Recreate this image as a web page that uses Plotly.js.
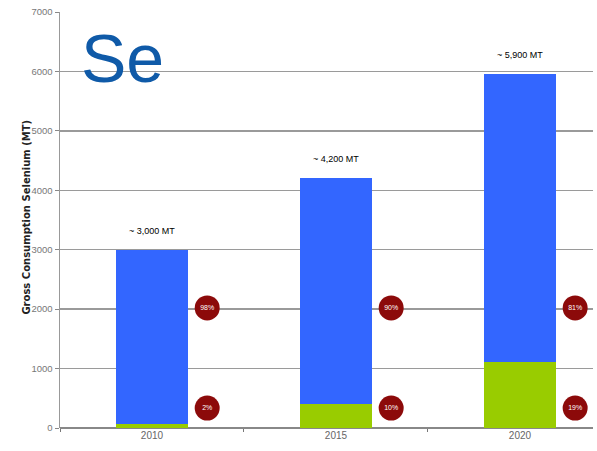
<!DOCTYPE html>
<html>
<head>
<meta charset="utf-8">
<script src="https://cdn.plot.ly/plotly-3.0.1.min.js"></script>
<style>html,body{margin:0;padding:0;background:#fff;}#chart{width:597px;height:451px;}</style>
</head>
<body>
<div id="chart"></div>
<script>
const categories = ['2010', '2015', '2020'];
const totalValues = [3000, 4200, 5950];
const greenValues = [60, 410, 1110];
const blueValues = [2940, 3790, 4840];
const totalLabels = ['~ 3,000 MT', '~ 4,200 MT', '~ 5,900 MT'];
const bluePctLabels = ['98%', '90%', '81%'];
const greenPctLabels = ['2%', '10%', '19%'];

const idx = categories.map((c, i) => i);
const circleOffset = 0.3;
const upperCircleY = 2020;
const lowerCircleY = 335;

const traces = [
  {type: 'bar', x: idx, y: greenValues, marker: {color: '#99cc00'}, width: 0.39, hoverinfo: 'skip'},
  {type: 'bar', x: idx, y: blueValues, marker: {color: '#3366ff'}, width: 0.39, hoverinfo: 'skip'},
  {type: 'scatter', mode: 'markers+text', x: idx.map(i => i + circleOffset), y: idx.map(() => upperCircleY),
   text: bluePctLabels, textposition: 'middle center', textfont: {color: '#ffffff', size: 7, family: 'Liberation Sans, Arial'},
   marker: {size: 25, color: '#8c0a0a', line: {width: 0}}, hoverinfo: 'skip'},
  {type: 'scatter', mode: 'markers+text', x: idx.map(i => i + circleOffset), y: idx.map(() => lowerCircleY),
   text: greenPctLabels, textposition: 'middle center', textfont: {color: '#ffffff', size: 7, family: 'Liberation Sans, Arial'},
   marker: {size: 25, color: '#8c0a0a', line: {width: 0}}, hoverinfo: 'skip'}
];

const annotations = idx.map(i => ({
  x: i, y: totalValues[i], xref: 'x', yref: 'y', text: totalLabels[i], showarrow: false,
  yanchor: 'bottom', yshift: 12, font: {size: 9, color: '#000', family: 'Liberation Sans Narrow, Liberation Sans, Arial'}
}));
annotations.push({
  xref: 'paper', yref: 'paper', x: 0, y: 0.507, xshift: -41, text: '<b>Gross Consumption Selenium (MT)</b>',
  textangle: -90, showarrow: false, font: {size: 10, color: '#222', family: 'DejaVu Sans, Liberation Sans, Arial'}
});
annotations.push({
  xref: 'paper', yref: 'paper', x: 0, y: 1, xshift: 19, yshift: -6, xanchor: 'left', yanchor: 'top',
  text: 'Se', showarrow: false, font: {size: 68, color: '#0f5aa8', family: 'Liberation Sans, Arial'}
});

const layout = {
  width: 597, height: 451,
  margin: {l: 60, r: 4, t: 12, b: 23, pad: 0},
  paper_bgcolor: '#ffffff', plot_bgcolor: '#ffffff',
  barmode: 'stack', showlegend: false,
  xaxis: {
    range: [-0.5, 2.397], tickvals: idx, ticktext: categories, ticks: '',
    showgrid: false, zeroline: false, showline: false,
    tickfont: {size: 10, color: '#666', family: 'Liberation Sans Narrow, Liberation Sans, Arial'},
    minor: {tick0: 0.5, dtick: 1, ticks: 'outside', ticklen: 3, tickcolor: '#777', showgrid: false}
  },
  yaxis: {
    range: [0, 7000], dtick: 1000, tickformat: 'd',
    showgrid: true, gridcolor: '#9a9a9a', gridwidth: 1.5,
    zeroline: true, zerolinecolor: '#888', zerolinewidth: 1.5,
    showline: true, linecolor: '#999', linewidth: 1.5,
    ticks: 'outside', ticklen: 4, tickcolor: '#888',
    tickfont: {size: 9.5, color: '#777', family: 'Liberation Sans Narrow, Liberation Sans, Arial'}
  },
  annotations: annotations
};

Plotly.newPlot('chart', traces, layout, {displayModeBar: false, staticPlot: true});
</script>
</body>
</html>
